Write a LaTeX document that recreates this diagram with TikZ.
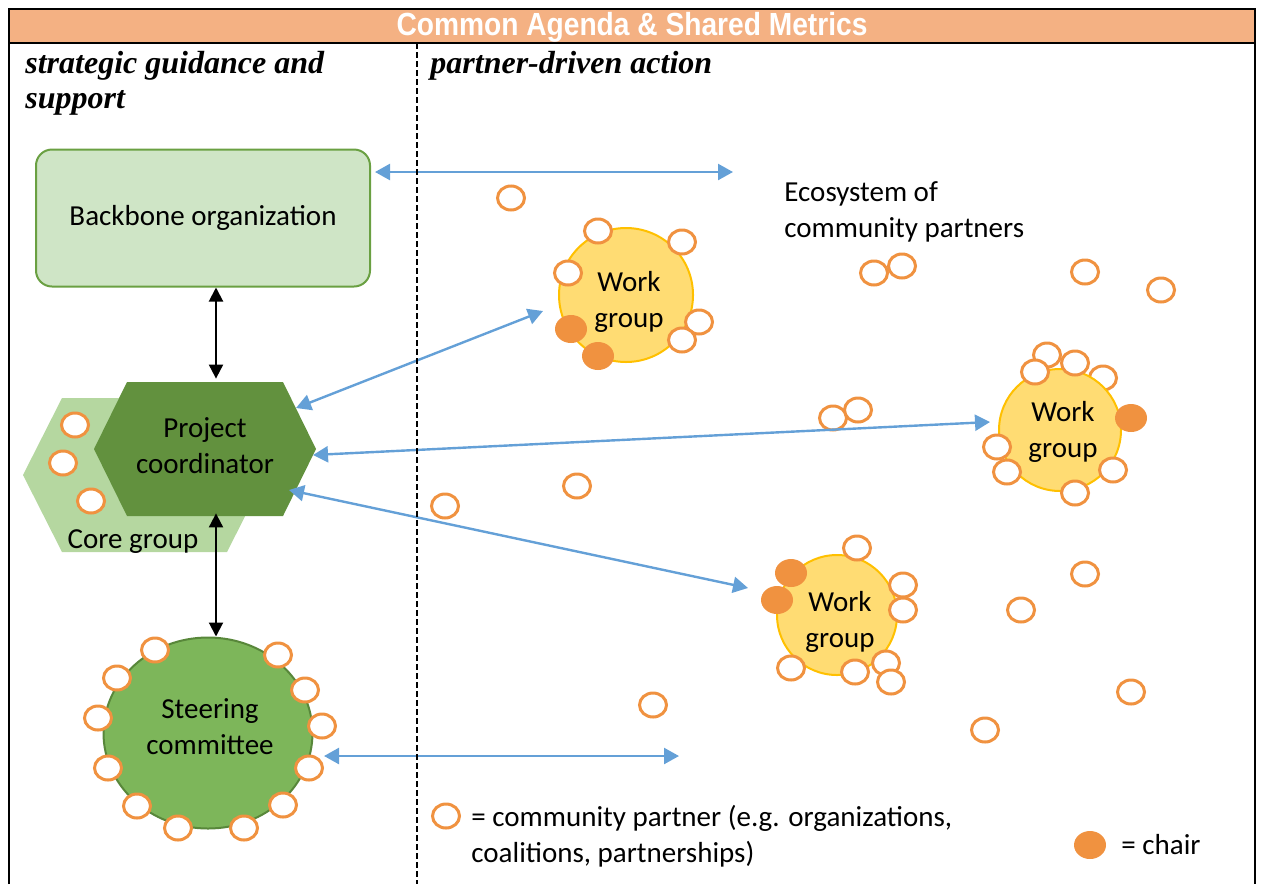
\documentclass[tikz,border=0pt]{standalone}
\usepackage{fontspec}
\setmainfont{Carlito}
\newfontfamily\headfont[FakeStretch=0.88]{Liberation Sans}
\newfontfamily\colfont{Liberation Serif}
\usetikzlibrary{positioning,shapes.geometric,arrows.meta}

\definecolor{partnerorange}{RGB}{240,146,64}
\definecolor{agendaorange}{RGB}{244,177,131}
\definecolor{linkblue}{RGB}{100,160,215}
\definecolor{backbonefill}{RGB}{207,229,198}
\definecolor{backboneline}{RGB}{106,160,66}
\definecolor{corefill}{RGB}{181,215,160}
\definecolor{coordfill}{RGB}{98,145,62}
\definecolor{steerfill}{RGB}{125,182,90}
\definecolor{steerline}{RGB}{88,135,58}
\definecolor{wgfill}{RGB}{255,220,115}
\definecolor{wgline}{RGB}{255,192,0}

\tikzset{
  txt/.style={font=\fontsize{14.5}{18}\selectfont, align=center, inner sep=0pt},
  frame/.style={line width=1.2pt},
  divider/.style={line width=0.6pt, dash pattern=on 3pt off 1.5pt},
  headtext/.style={font=\headfont\bfseries\fontsize{16}{18}\selectfont, text=white},
  colhead/.style={font=\colfont\bfseries\itshape\fontsize{16}{17.5}\selectfont, align=left, anchor=north west, inner sep=0pt},
  backbone/.style={txt, rectangle, rounded corners=8pt, draw=backboneline, line width=1pt, fill=backbonefill, minimum width=167pt, minimum height=68.5pt},
  steering/.style={ellipse, draw=steerline, line width=1pt, fill=steerfill, minimum width=104.5pt, minimum height=95.5pt},
  workgroup/.style={circle, draw=wgline, line width=1pt, fill=wgfill, inner sep=0pt},
  partner/.style={ellipse, draw=partnerorange, line width=1.5pt, fill=white, minimum width=13.5pt, minimum height=12pt, inner sep=0pt},
  chair/.style={ellipse, fill=partnerorange, minimum width=16pt, minimum height=14pt, inner sep=0pt},
  blue link/.style={{Triangle[length=7.5pt,width=8pt]}-{Triangle[length=7.5pt,width=8pt]}, draw=linkblue, line width=1.2pt},
  black link/.style={{Triangle[length=7pt,width=7pt]}-{Triangle[length=7pt,width=7pt]}, line width=1pt}
}

\begin{document}
\begin{tikzpicture}[x=0.5pt, y=-0.5pt]
    \useasboundingbox (0,0) rectangle (1261,884);

    % Header band and frame
    \fill[agendaorange] (9,9) rectangle (1255,43);
    \draw[frame] (9,884) -- (9,9) -- (1255,9) -- (1255,884);
    \draw[frame] (9,43) -- (1255,43);
    \node[headtext] (agenda) at (632,27) {Common Agenda \& Shared Metrics};

    % Column titles
    \node[colhead] (strategic) at (25,51) {strategic guidance and\\support};
    \node[colhead] (partnerdriven) at (430,51) {partner-driven action};

    % Backbone organization
    \node[backbone] (bb) at (203,218) {Backbone organization};

    % Core group behind the project coordinator
    \fill[corefill] (23,475) -- (62,398) -- (227,398) -- (266,475) -- (227,552) -- (62,552) -- cycle;
    \foreach \x/\y [count=\i] in {75/425, 63/463, 91/501}
      \node[partner] (core-p\i) at (\x,\y) {};
    \fill[coordfill] (94,449) -- (127,382) -- (283,382) -- (316,449) -- (283,516) -- (127,516) -- cycle;
    \node[txt, minimum width=111pt, minimum height=67pt] (pc) at (205,446) {Project\\coordinator};
    \node[txt] (core) at (133,542) {Core group};

    % Steering committee with its members
    \node[steering] (sc) at (208,733) {};
    \node[txt] (sc-label) at (210,727) {Steering\\committee};
    \foreach \x/\y [count=\i] in {155/650, 278/655, 117/678, 305/690, 98/718, 322/726,
                                  108/768, 309/768, 137/806, 283/805, 178/828, 244/828}
      \node[partner] (sc-p\i) at (\x,\y) {};

    % Work group 1
    \node[workgroup, minimum size=67pt] (wg1) at (626,295) {};
    \node[txt] (wg1-label) at (629,302) {Work\\group};
    \foreach \x/\y [count=\i] in {598/231, 682/242, 568/273, 699/322, 682/340}
      \node[partner] (wg1-p\i) at (\x,\y) {};
    \node[chair] (wg1-c1) at (571,329) {};
    \node[chair] (wg1-c2) at (598,356) {};

    % Work group 2
    \node[partner] (wg2-p0) at (1103,378) {};
    \node[workgroup, minimum size=61pt] (wg2) at (1060,430) {};
    \node[txt] (wg2-label) at (1063,432) {Work\\group};
    \foreach \x/\y [count=\i] in {1047/355, 1035/372, 1075/363, 997/447, 1007/472, 1113/470, 1075/493}
      \node[partner] (wg2-p\i) at (\x,\y) {};
    \node[chair] (wg2-c1) at (1131,418) {};

    % Work group 3
    \node[workgroup, minimum size=60pt] (wg3) at (837,615) {};
    \node[txt] (wg3-label) at (840,622) {Work\\group};
    \foreach \x/\y [count=\i] in {857/548, 903/585, 903/610, 791/668, 886/663, 855/672, 891/682}
      \node[partner] (wg3-p\i) at (\x,\y) {};
    \node[chair] (wg3-c1) at (791,573) {};
    \node[chair] (wg3-c2) at (777,600) {};

    % Loose partners in the ecosystem
    \foreach \x/\y [count=\i] in {511/198, 902/266, 874/273, 1085/272, 1161/290, 833/418, 858/410,
                                  577/486, 445/506, 1085/574, 1021/610, 1131/692, 653/705, 985/730}
      \node[partner] (eco-p\i) at (\x,\y) {};
    \node[txt, anchor=west, align=left] (eco) at (784,212) {Ecosystem of\\community partners};

    % Links
    \coordinate (spine) at (216,0);
    \coordinate (bb-out) at (733,172);
    \coordinate (pc-up) at (296,408);
    \coordinate (wg1-in) at (543,311);
    \coordinate (pc-mid) at (313,455);
    \coordinate (wg2-in) at (990,422);
    \coordinate (pc-low) at (289,490);
    \coordinate (wg3-in) at (748,588);
    \coordinate (sc-out) at (679,756);
    \draw[black link] (bb.south -| spine) -- (pc.north -| spine);
    \draw[black link] (pc.south -| spine) -- (sc.north -| spine);
    \draw[blue link, shorten <=2pt] (bb.east |- bb-out) -- (bb-out);
    \draw[blue link] (pc-up) -- (wg1-in);
    \draw[blue link] (pc-mid) -- (wg2-in);
    \draw[blue link] (pc-low) -- (wg3-in);
    \draw[blue link] (sc-p6.south |- sc-out) ++(2,0) -- (sc-out);

    % Column divider
    \draw[divider] (417,43) -- (417,884);

    % Legend
    \node[partner] (key-partner) at (446,816) {};
    \node[txt, anchor=west, align=left] (key-partner-text) at (471,836) {= community partner (e.g. organizations,\\coalitions, partnerships)};
    \node[chair] (key-chair) at (1090,845) {};
    \node[txt, anchor=west] (key-chair-text) at (1121,845) {= chair};

\end{tikzpicture}
\end{document}
